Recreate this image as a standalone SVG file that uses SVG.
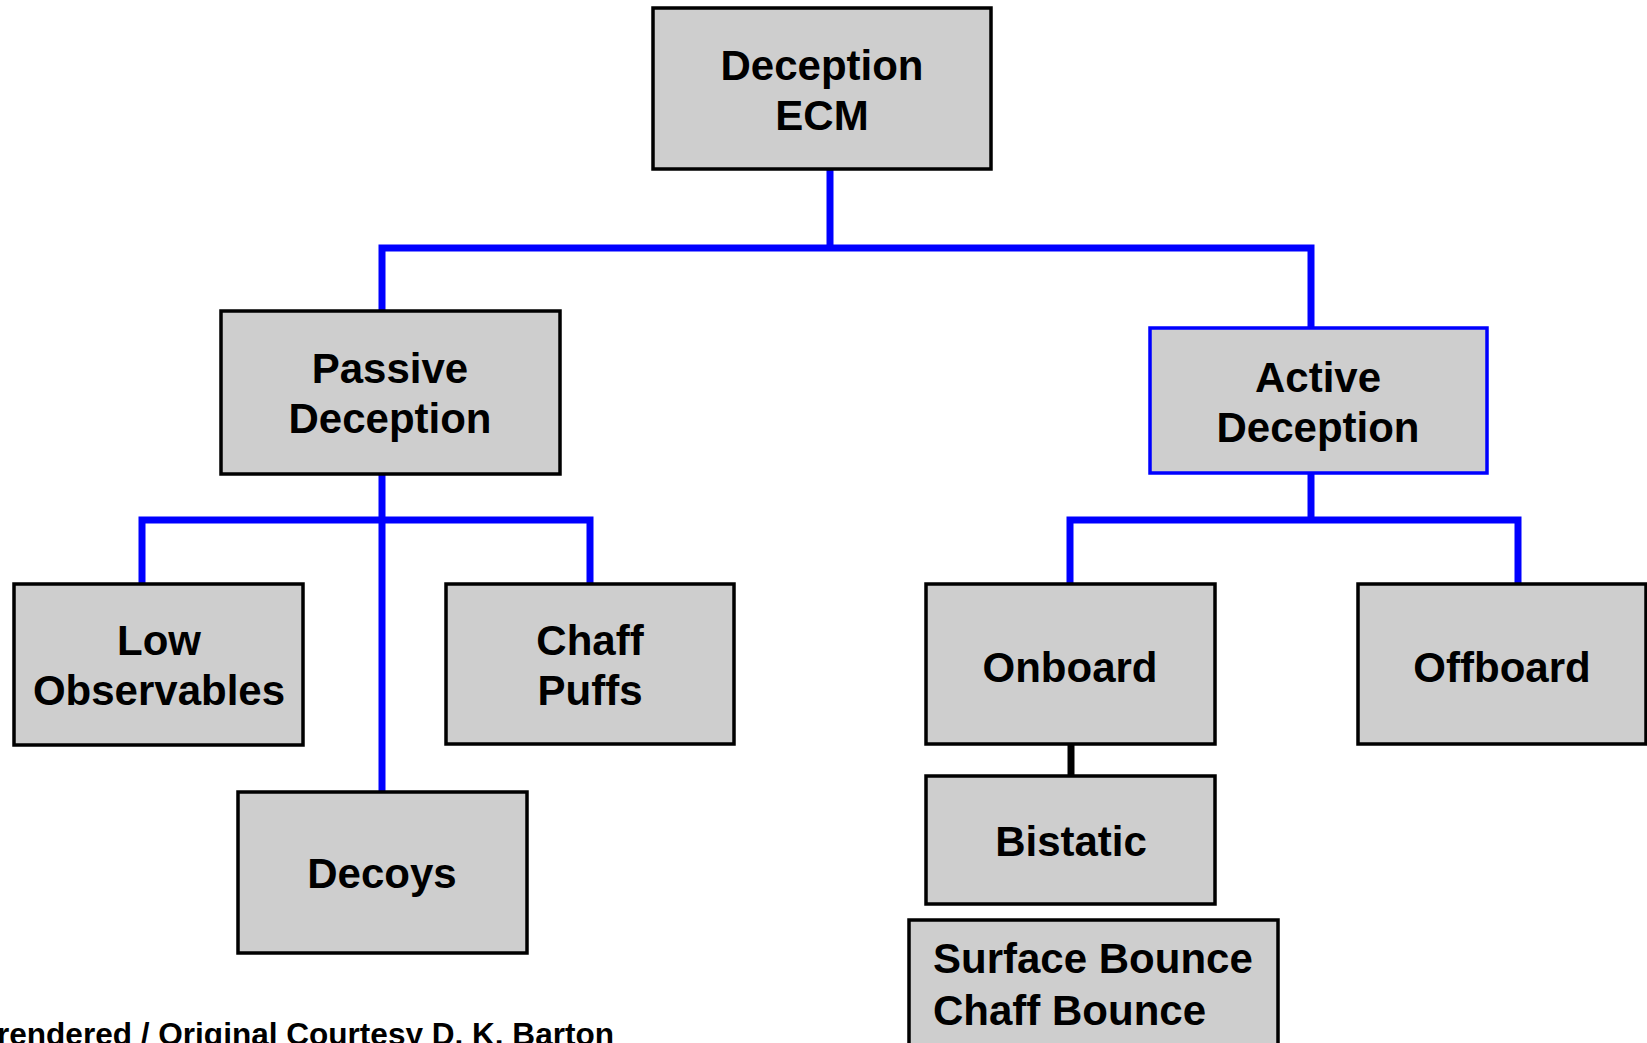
<svg xmlns="http://www.w3.org/2000/svg" width="1647" height="1043" viewBox="0 0 1647 1043">
  <style>
    .box { fill: #cecece; stroke: #000000; stroke-width: 3.5; }
    .box-blue { fill: #cecece; stroke: #0000ff; stroke-width: 3.5; }
    .lbl { font-family: "Liberation Sans", Arial, sans-serif; font-weight: bold; font-size: 42px; fill: #000000; text-anchor: middle; }
    .lbl-left { font-family: "Liberation Sans", Arial, sans-serif; font-weight: bold; font-size: 42px; fill: #000000; }
    .wire { fill: none; stroke: #0000ff; stroke-width: 7; stroke-linejoin: miter; stroke-linecap: butt; }
    .wire-black { fill: none; stroke: #000000; stroke-width: 7; }
    .credit { font-family: "Liberation Sans", Arial, sans-serif; font-weight: bold; font-size: 31px; fill: #000000; }
  </style>
  <rect width="1647" height="1043" fill="#ffffff"/>

  <!-- tree connectors -->
  <g id="connectors">
    <path class="wire" d="M830,169 V248"/>
    <path class="wire" d="M382,311 V248 H1311 V328"/>
    <path class="wire" d="M382,474 V792"/>
    <path class="wire" d="M142,583 V520 H590 V583"/>
    <path class="wire" d="M1311,473 V520"/>
    <path class="wire" d="M1070,584 V520 H1518 V584"/>
    <path class="wire-black" d="M1071,744 V776"/>
  </g>

  <g id="deception-ecm">
    <rect class="box" x="653" y="8" width="338" height="161"/>
    <text class="lbl" x="822" y="80">Deception</text>
    <text class="lbl" x="822" y="130">ECM</text>
  </g>

  <g id="passive-deception">
    <rect class="box" x="221" y="311" width="339" height="163"/>
    <text class="lbl" x="390" y="383">Passive</text>
    <text class="lbl" x="390" y="433">Deception</text>
  </g>

  <g id="active-deception">
    <rect class="box-blue" x="1150" y="328" width="337" height="145"/>
    <text class="lbl" x="1318" y="392">Active</text>
    <text class="lbl" x="1318" y="442">Deception</text>
  </g>

  <g id="low-observables">
    <rect class="box" x="14" y="584" width="289" height="161"/>
    <text class="lbl" x="159" y="655">Low</text>
    <text class="lbl" x="159" y="705">Observables</text>
  </g>

  <g id="chaff-puffs">
    <rect class="box" x="446" y="584" width="288" height="160"/>
    <text class="lbl" x="590" y="655">Chaff</text>
    <text class="lbl" x="590" y="705">Puffs</text>
  </g>

  <g id="decoys">
    <rect class="box" x="238" y="792" width="289" height="161"/>
    <text class="lbl" x="382" y="888">Decoys</text>
  </g>

  <g id="onboard">
    <rect class="box" x="926" y="584" width="289" height="160"/>
    <text class="lbl" x="1070" y="682">Onboard</text>
  </g>

  <g id="offboard">
    <rect class="box" x="1358" y="584" width="288" height="160"/>
    <text class="lbl" x="1502" y="682">Offboard</text>
  </g>

  <g id="bistatic">
    <rect class="box" x="926" y="776" width="289" height="128"/>
    <text class="lbl" x="1071" y="856">Bistatic</text>
  </g>

  <g id="surface-chaff-bounce">
    <rect class="box" x="909" y="920" width="369" height="140"/>
    <text class="lbl-left" x="933" y="973">Surface Bounce</text>
    <text class="lbl-left" x="933" y="1025">Chaff Bounce</text>
  </g>

  <text class="credit" x="-3" y="1045" textLength="617" lengthAdjust="spacingAndGlyphs">rendered / Original Courtesy D. K.  Barton</text>
</svg>
